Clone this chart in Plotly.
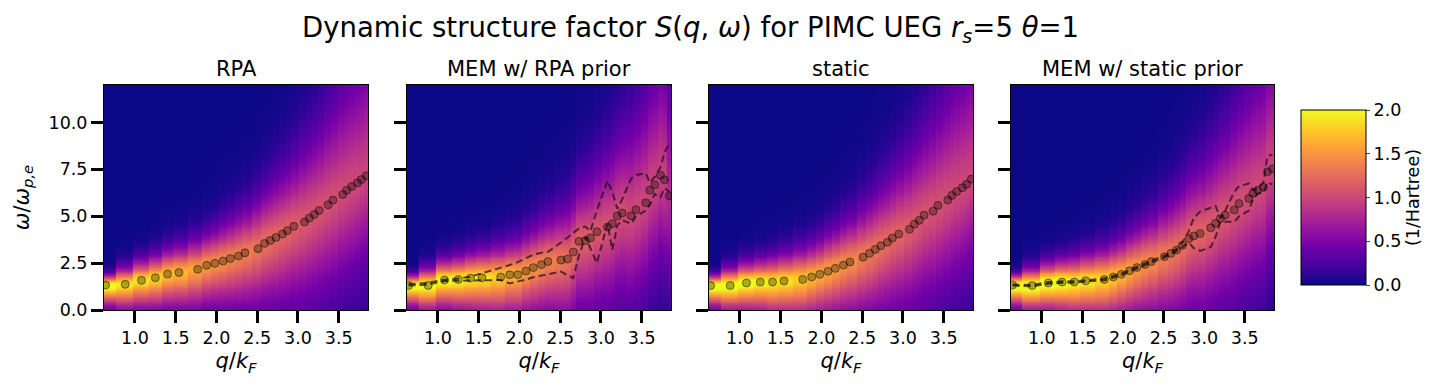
import numpy as np
import plotly.graph_objects as go
from plotly.subplots import make_subplots

# momentum grid (q/k_F) shared by every panel
q = [0.64, 0.88, 1.08, 1.25, 1.40, 1.54, 1.77, 1.88, 1.98, 2.08, 2.17, 2.27, 2.35, 2.51, 2.59, 2.66,
     2.73, 2.81, 2.87, 2.95, 3.08, 3.14, 3.20, 3.26, 3.37, 3.43, 3.55, 3.60, 3.66, 3.73, 3.78, 3.84]

# peak positions (omega/omega_p,e)
peak_rpa = [1.33, 1.37, 1.58, 1.72, 1.92, 2.00, 2.17, 2.38, 2.49, 2.61, 2.74, 2.88, 3.05, 3.27, 3.55, 3.71,
            3.87, 4.05, 4.23, 4.46, 4.69, 4.90, 5.09, 5.31, 5.61, 5.86, 6.16, 6.39, 6.59, 6.78, 6.96, 7.16]
peak_mem_rpa = [1.31, 1.31, 1.60, 1.63, 1.70, 1.72, 1.76, 1.88, 1.88, 2.08, 2.26, 2.42, 2.58, 2.66, 2.72, 3.09,
                3.66, 3.71, 3.84, 4.17, 4.42, 4.60, 5.01, 5.17, 5.03, 5.35, 5.72, 6.39, 6.68, 7.19, 6.94, 6.09]
peak_static = [1.30, 1.31, 1.44, 1.49, 1.49, 1.55, 1.63, 1.76, 1.90, 2.06, 2.22, 2.40, 2.56, 2.81, 3.02, 3.23,
               3.43, 3.61, 3.84, 4.05, 4.30, 4.58, 4.78, 5.06, 5.27, 5.58, 5.86, 6.11, 6.32, 6.52, 6.70, 6.98]
peak_mem_static = [1.33, 1.30, 1.44, 1.49, 1.49, 1.56, 1.63, 1.76, 1.90, 2.09, 2.26, 2.43, 2.58, 2.84, 3.02, 3.20,
                   3.45, 3.80, 3.95, 4.08, 4.38, 4.62, 4.88, 5.06, 5.33, 5.68, 5.95, 6.22, 6.39, 6.54, 7.37, 7.52]

# MEM error band (dashed lines)
upper_mem_rpa = [1.38, 1.45, 1.62, 1.68, 1.78, 1.95, 2.25, 2.40, 2.55, 2.75, 2.95, 3.05, 3.10, 3.60, 3.85, 4.10,
                 4.35, 4.45, 4.20, 5.30, 6.90, 6.30, 5.40, 5.90, 7.00, 7.20, 7.30, 6.80, 7.10, 7.60, 8.40, 8.90]
lower_mem_rpa = [1.30, 1.35, 1.55, 1.56, 1.56, 1.55, 1.60, 1.42, 1.50, 1.62, 1.75, 1.85, 1.92, 2.05, 1.85, 1.70,
                 2.90, 3.90, 3.30, 2.50, 4.60, 3.20, 4.50, 4.80, 4.60, 5.00, 5.30, 5.60, 6.20, 6.00, 6.50, 6.30]
upper_mem_static = [1.36, 1.34, 1.48, 1.53, 1.53, 1.60, 1.68, 1.81, 1.95, 2.14, 2.31, 2.48, 2.63, 2.89, 3.07, 3.25,
                    3.60, 4.20, 4.90, 5.25, 5.45, 5.55, 4.90, 5.30, 6.30, 6.60, 6.75, 6.40, 6.50, 6.80, 8.20, 8.30]
lower_mem_static = [1.30, 1.26, 1.40, 1.45, 1.45, 1.52, 1.58, 1.71, 1.85, 2.04, 2.21, 2.38, 2.53, 2.79, 2.97, 3.15,
                    3.35, 3.60, 3.30, 3.15, 3.35, 3.90, 4.70, 4.70, 4.70, 5.00, 5.30, 5.90, 6.20, 6.30, 6.80, 6.70]

# peak height of S(q, omega) in 1/Hartree
height_rpa = [2.2, 1.95, 1.9, 1.85, 1.75, 1.7, 1.6, 1.55, 1.5, 1.47, 1.43, 1.4, 1.37, 1.32, 1.3, 1.27,
              1.25, 1.22, 1.2, 1.17, 1.14, 1.12, 1.1, 1.09, 1.07, 1.06, 1.04, 1.03, 1.02, 1.01, 1.0, 1.0]
height_mem_rpa = [2.2, 2.1, 2.05, 2.0, 1.95, 1.9, 1.8, 1.7, 1.65, 1.55, 1.5, 1.45, 1.4, 1.35, 1.3, 1.25,
                  1.2, 1.18, 1.15, 1.12, 1.1, 1.08, 1.06, 1.05, 1.03, 1.02, 1.0, 1.0, 0.98, 0.97, 0.96, 0.8]
height_static = [2.3, 2.15, 2.1, 2.0, 1.95, 1.9, 1.8, 1.72, 1.65, 1.6, 1.55, 1.5, 1.45, 1.38, 1.35, 1.32,
                 1.28, 1.25, 1.22, 1.2, 1.16, 1.14, 1.12, 1.1, 1.08, 1.07, 1.05, 1.04, 1.03, 1.02, 1.01, 1.0]
height_mem_static = [2.3, 2.2, 2.15, 2.1, 2.0, 1.95, 1.85, 1.78, 1.7, 1.62, 1.55, 1.5, 1.45, 1.38, 1.35, 1.32,
                     1.28, 1.25, 1.22, 1.2, 1.16, 1.14, 1.12, 1.1, 1.08, 1.07, 1.05, 1.04, 1.03, 1.02, 1.01, 1.0]

# spread of the peak below / above its centre
width_below = [0.95, 1.2, 1.35, 1.5, 1.65, 1.75, 1.95, 2.05, 2.15, 2.3, 2.45, 2.6, 2.75, 3.0, 3.15, 3.3,
               3.45, 3.6, 3.75, 3.9, 4.1, 4.2, 4.3, 4.4, 4.5, 4.55, 4.6, 4.65, 4.7, 4.7, 4.7, 4.7]
width_above = [0.45, 0.75, 0.9, 1.0, 1.1, 1.2, 1.35, 1.45, 1.55, 1.7, 1.8, 1.95, 2.05, 2.3, 2.45, 2.6,
               2.75, 2.9, 3.05, 3.25, 3.55, 3.75, 3.95, 4.15, 4.55, 4.8, 5.2, 5.4, 5.6, 5.8, 6.0, 6.2]

omega = np.arange(0, 12.0001, 0.05)

titles = ["RPA", "MEM w/ RPA prior", "static", "MEM w/ static prior"]
peaks = [peak_rpa, peak_mem_rpa, peak_static, peak_mem_static]
heights = [height_rpa, height_mem_rpa, height_static, height_mem_static]
bands = [None, (upper_mem_rpa, lower_mem_rpa), None, (upper_mem_static, lower_mem_static)]


def spectrum(peak, height):
    d = omega[:, None] - np.array(peak)[None, :]
    s = np.where(d < 0, np.array(width_below)[None, :], np.array(width_above)[None, :])
    return np.array(height)[None, :] * np.exp(-(np.abs(d) / s) ** 1.5)


fig = make_subplots(rows=1, cols=4, shared_yaxes=True)

# the page body adds an 8px offset, so everything is placed 8px up/left
W, H = 1440, 387
OFF = 8
doms = [(104, 368), (407, 671), (709, 973), (1011, 1274)]
y0, y1 = 1 - (310 - OFF) / H, 1 - (85 - OFF) / H

for i in range(4):
    col = i + 1
    fig.add_trace(go.Heatmap(x=q, y=omega, z=spectrum(peaks[i], heights[i]), coloraxis="coloraxis",
                             zsmooth=False), row=1, col=col)
    if bands[i] is not None:
        for band in bands[i]:
            fig.add_trace(go.Scatter(x=q, y=band, mode="lines",
                                     line=dict(color="rgba(30,10,20,0.7)", width=2, dash="7px,4px"),
                                     showlegend=False, hoverinfo="skip"), row=1, col=col)
    fig.add_trace(go.Scatter(x=q, y=peaks[i], mode="markers",
                             marker=dict(size=8, color="rgba(0,0,0,0.3)",
                                         line=dict(color="rgba(0,0,0,0.45)", width=1)),
                             showlegend=False), row=1, col=col)

axis_style = dict(showline=True, linecolor="black", linewidth=1, mirror=True, ticks="outside",
                  ticklen=12, tickwidth=2.5, tickcolor="black", showgrid=False, zeroline=False,
                  tickfont=dict(size=17.5, color="black"))

for i in range(4):
    xa = "xaxis" if i == 0 else f"xaxis{i + 1}"
    ya = "yaxis" if i == 0 else f"yaxis{i + 1}"
    fig.layout[xa].update(domain=[(doms[i][0] - OFF) / W, (doms[i][1] - OFF) / W], range=[0.62, 3.86],
                          tickvals=[1.0, 1.5, 2.0, 2.5, 3.0, 3.5], ticktext=["1.0", "1.5", "2.0", "2.5", "3.0", "3.5"],
                          title=dict(text="<i>q</i>/<i>k</i><sub><i>F</i></sub>", font=dict(size=21, color="black"),
                                     standoff=6),
                          **axis_style)
    fig.layout[ya].update(domain=[y0, y1], range=[0, 12], tickvals=[0, 2.5, 5, 7.5, 10],
                          ticktext=["0.0", "2.5", "5.0", "7.5", "10.0"], showticklabels=(i == 0),
                          **axis_style)

fig.layout.yaxis.title = dict(text="<i>ω</i>/<i>ω</i><sub><i>p,e</i></sub>", font=dict(size=21, color="black"),
                              standoff=13)

fig.layout.annotations = []
for i, t in enumerate(titles):
    fig.add_annotation(text=t, x=((doms[i][0] + doms[i][1]) / 2 - OFF) / W, y=1 - (69 - OFF) / H,
                       xref="paper", yref="paper", showarrow=False, font=dict(size=21, color="black"),
                       xanchor="center", yanchor="middle")

fig.add_annotation(text="Dynamic structure factor <i>S</i>(<i>q</i>, <i>ω</i>) for PIMC UEG "
                        "<i>r</i><sub><i>s</i></sub>=5 <i>θ</i>=1",
                   x=(690 - OFF) / W, y=1 - 1 / H, xref="paper", yref="paper", showarrow=False,
                   font=dict(size=27.5, color="black"), xanchor="center", yanchor="top")

fig.update_layout(
    width=W, height=H,
    margin=dict(l=0, r=0, t=0, b=0, autoexpand=False),
    paper_bgcolor="white", plot_bgcolor="white",
    font=dict(family="DejaVu Sans", color="black"),
    coloraxis=dict(
        colorscale="Plasma", cmin=0, cmax=2,
        colorbar=dict(x=(1301 - OFF) / W, xanchor="left", xpad=0, y=1 - (197.5 - OFF) / H, yanchor="middle",
                      ypad=0, len=175 / H, lenmode="fraction", thickness=65, thicknessmode="pixels",
                      outlinecolor="black", outlinewidth=1, ticks="outside", ticklen=4,
                      tickvals=[0, 0.5, 1, 1.5, 2], ticktext=["0.0", "0.5", "1.0", "1.5", "2.0"],
                      tickfont=dict(size=17.5, color="black"),
                      title=dict(text="(1/Hartree)", side="right", font=dict(size=17.5, color="black"))),
    ),
)

fig.write_html("out.html")
